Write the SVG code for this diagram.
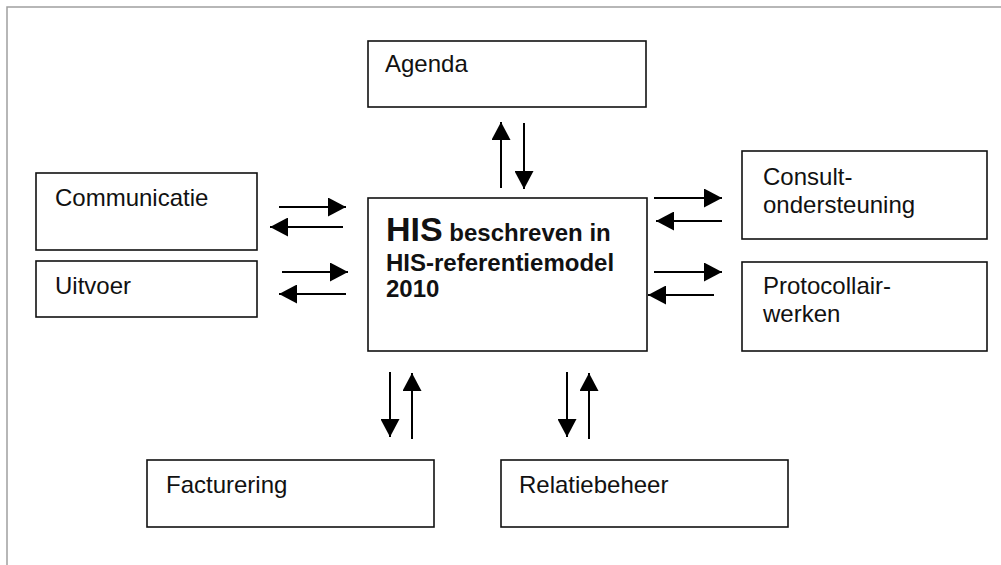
<svg xmlns="http://www.w3.org/2000/svg" width="1001" height="565" viewBox="0 0 1001 565">
<style>
.box{fill:#fff;stroke:#111;stroke-width:1.6}
.t{font-family:"Liberation Sans",Arial,sans-serif;font-size:24px;fill:#111}
.b{font-family:"Liberation Sans",Arial,sans-serif;font-weight:bold;font-size:24px;fill:#111}
.a{stroke:#000;stroke-width:2;fill:none;marker-end:url(#ah)}
.frame{stroke:#a0a0a0;stroke-width:1.5;fill:none}
</style>
<defs>
<marker id="ah" markerUnits="userSpaceOnUse" viewBox="0 0 18 19" markerWidth="18" markerHeight="19" refX="18" refY="9.5" orient="auto">
<path d="M0,0 L18,9.5 L0,19 Z" fill="#000"/>
</marker>
</defs>
<path class="frame" d="M7,565 V7 H1001"/>
<g id="agenda"><rect class="box" x="368" y="41" width="278" height="66"/><text class="t" x="385" y="72">Agenda</text></g>
<g id="communicatie"><rect class="box" x="36" y="173" width="221" height="77"/><text class="t" x="55" y="206">Communicatie</text></g>
<g id="uitvoer"><rect class="box" x="36" y="261" width="221" height="56"/><text class="t" x="55" y="294">Uitvoer</text></g>
<g id="his"><rect class="box" x="368" y="198" width="279" height="153"/>
<text class="b" x="386" y="241"><tspan font-size="34">HIS</tspan> beschreven in</text>
<text class="b" x="386" y="271">HIS-referentiemodel</text>
<text class="b" x="386" y="297">2010</text></g>
<g id="consult"><rect class="box" x="742" y="151" width="245" height="88"/><text class="t" x="763" y="185">Consult-</text><text class="t" x="763" y="213">ondersteuning</text></g>
<g id="protocollair"><rect class="box" x="742" y="262" width="245" height="89"/><text class="t" x="763" y="294">Protocollair-</text><text class="t" x="763" y="322">werken</text></g>
<g id="facturering"><rect class="box" x="147" y="460" width="287" height="67"/><text class="t" x="166" y="493">Facturering</text></g>
<g id="relatiebeheer"><rect class="box" x="501" y="460" width="287" height="67"/><text class="t" x="519" y="493">Relatiebeheer</text></g>
<g id="connectors">
<line class="a" x1="501" y1="188" x2="501" y2="122"/>
<line class="a" x1="524" y1="123" x2="524" y2="189"/>
<line class="a" x1="279" y1="207" x2="346" y2="207"/>
<line class="a" x1="343" y1="227" x2="270" y2="227"/>
<line class="a" x1="282" y1="272" x2="348" y2="272"/>
<line class="a" x1="346" y1="294" x2="279" y2="294"/>
<line class="a" x1="654" y1="198" x2="722" y2="198"/>
<line class="a" x1="722" y1="221" x2="656" y2="221"/>
<line class="a" x1="654" y1="272" x2="722" y2="272"/>
<line class="a" x1="714" y1="295" x2="648" y2="295"/>
<line class="a" x1="390" y1="372" x2="390" y2="437"/>
<line class="a" x1="412" y1="439" x2="412" y2="373"/>
<line class="a" x1="567" y1="372" x2="567" y2="437"/>
<line class="a" x1="589" y1="439" x2="589" y2="373"/>
</g>
</svg>
